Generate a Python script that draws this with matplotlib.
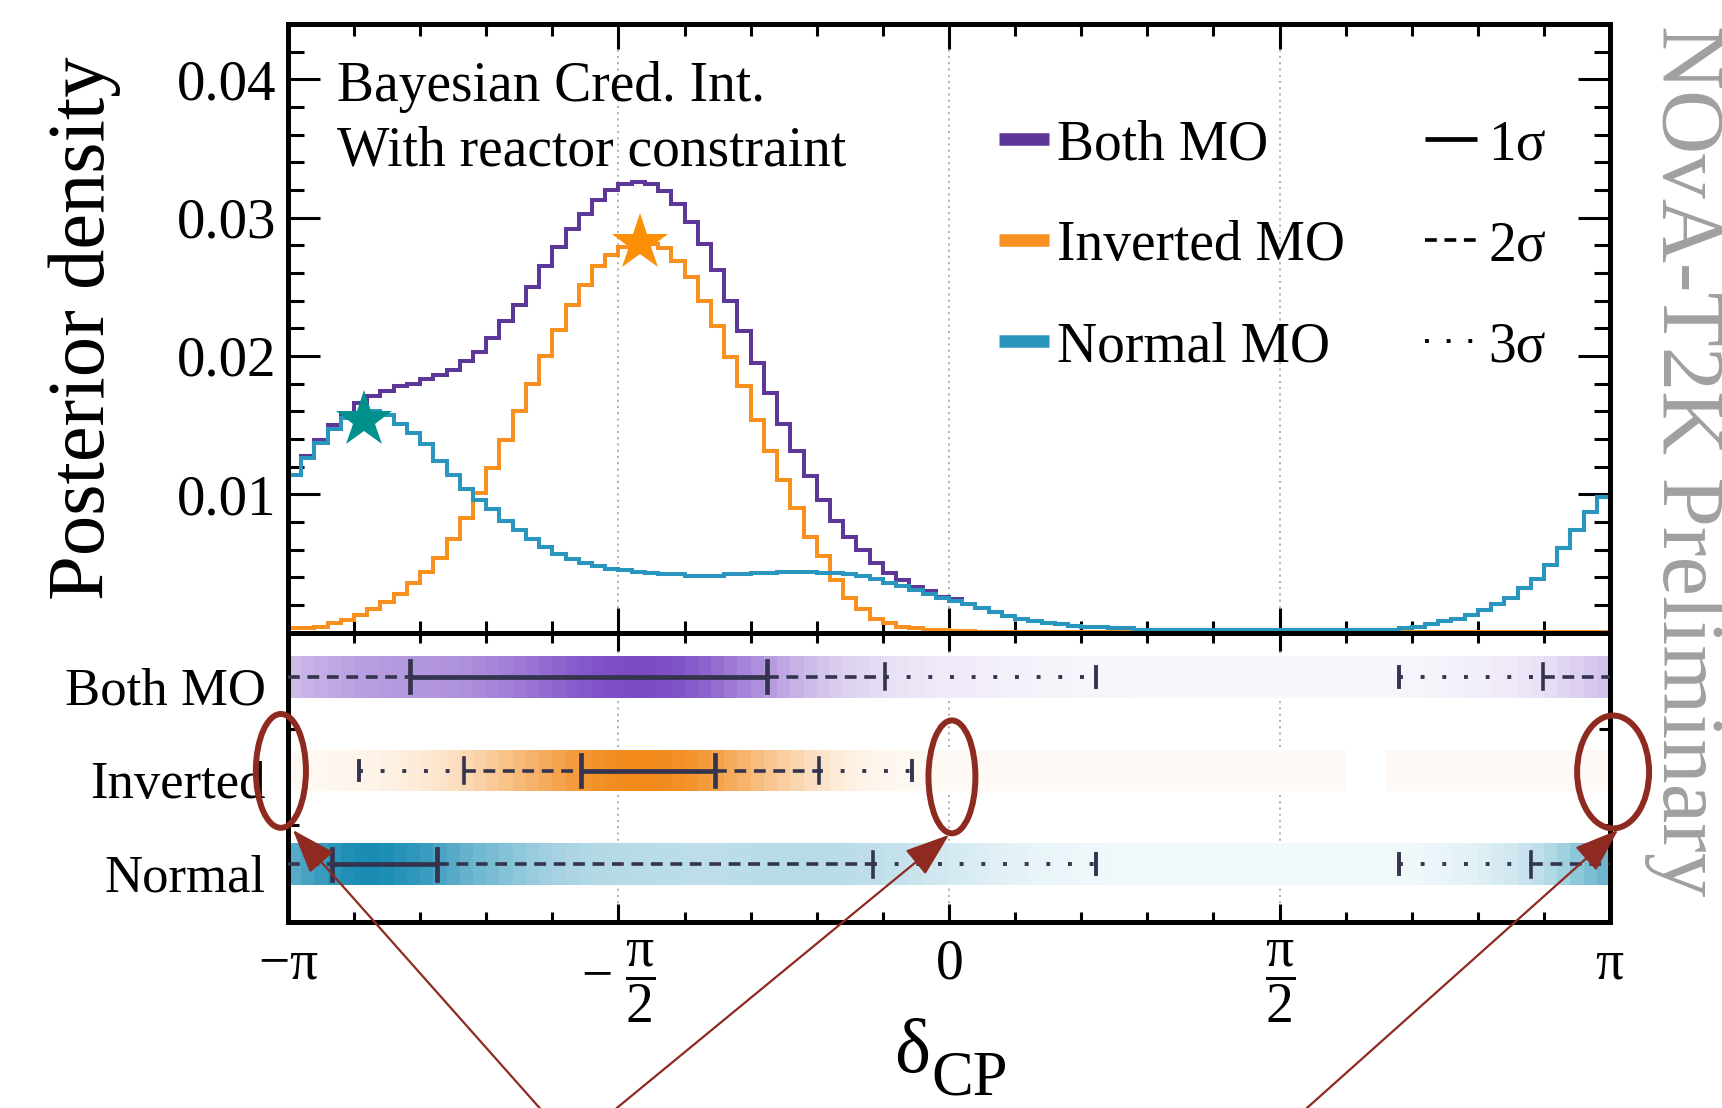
import numpy as np
import matplotlib
matplotlib.use('Agg')
import matplotlib.pyplot as plt
from matplotlib.patches import Ellipse
from matplotlib.colors import LinearSegmentedColormap, Normalize, to_rgb
from matplotlib.ticker import MultipleLocator, NullFormatter

plt.rcParams['font.family'] = ['Liberation Serif', 'DejaVu Serif']
plt.rcParams['mathtext.fontset'] = 'custom'
plt.rcParams['mathtext.rm'] = 'Liberation Serif'
plt.rcParams['mathtext.it'] = 'Liberation Serif:italic'
plt.rcParams['mathtext.default'] = 'regular'
plt.rcParams['lines.scale_dashes'] = False

# delta_CP posterior, 100 bins from -pi to pi
n_bins = 100
edges = np.linspace(-np.pi, np.pi, n_bins + 1)

both_mo = [
    0.0114, 0.0128, 0.0139, 0.0150, 0.0158, 0.0166, 0.0171, 0.0175, 0.0178, 0.0180,
    0.0183, 0.0186, 0.0190, 0.0196, 0.0203, 0.0213, 0.0225, 0.0237, 0.0250, 0.0265,
    0.0279, 0.0292, 0.0303, 0.0313, 0.0320, 0.0324, 0.0326, 0.0324, 0.0319, 0.0310,
    0.0297, 0.0281, 0.0262, 0.0240, 0.0218, 0.0195, 0.0173, 0.0151, 0.0131, 0.0113,
    0.0096, 0.0081, 0.0069, 0.0060, 0.0050, 0.0043, 0.0038, 0.0033, 0.0030, 0.0026,
    0.0024, 0.0021, 0.0018, 0.0015, 0.0012, 0.0010, 0.0008, 0.0007, 0.0006, 0.0005,
    0.0004, 0.0004, 0.0003, 0.0003, 0.0002, 0.0002, 0.0002, 0.0002, 0.0002, 0.0002,
    0.0002, 0.0002, 0.0002, 0.0002, 0.0002, 0.0002, 0.0002, 0.0002, 0.0002, 0.0002,
    0.0002, 0.0002, 0.0002, 0.0002, 0.0003, 0.0004, 0.0006, 0.0008, 0.0010, 0.0013,
    0.0016, 0.0021, 0.0025, 0.0032, 0.0039, 0.0049, 0.0061, 0.0074, 0.0087, 0.0098,
]

inverted_mo = [
    0.0003, 0.0003, 0.0004, 0.0007, 0.0009, 0.0013, 0.0017, 0.0022, 0.0028, 0.0036,
    0.0044, 0.0054, 0.0068, 0.0083, 0.0101, 0.0119, 0.0139, 0.0160, 0.0180, 0.0200,
    0.0219, 0.0237, 0.0251, 0.0265, 0.0273, 0.0279, 0.0282, 0.0281, 0.0278, 0.0269,
    0.0257, 0.0240, 0.0222, 0.0199, 0.0178, 0.0154, 0.0131, 0.0110, 0.0090, 0.0069,
    0.0055, 0.0038, 0.0025, 0.0017, 0.0010, 0.0007, 0.0004, 0.0003, 0.0002, 0.0002,
    0.0001, 0.0001, 0.00004, 0.00003, 0.00002, 0.00002, 0.00002, 0.00002, 0.00002, 0.00002,
    0.00002, 0.00002, 0.00002, 0.00002, 0.00002, 0.00002, 0.00002, 0.00002, 0.00002, 0.00002,
    0.00002, 0.00002, 0.00002, 0.00002, 0.00001, 0.00001, 0.00002, 0.00002, 0.00002, 0.00002,
    0.0, 0.0, 0.0, 0.00002, 0.00002, 0.00002, 0.00002, 0.00002, 0.00002, 0.00002,
    0.00002, 0.00002, 0.00002, 0.00002, 0.00002, 0.00002, 0.00002, 0.00002, 0.00002, 0.00002,
]

normal_mo = [
    0.0114, 0.0126, 0.0137, 0.0147, 0.0155, 0.0159, 0.0160, 0.0157, 0.0151, 0.0144,
    0.0136, 0.0124, 0.0114, 0.0104, 0.0096, 0.0089, 0.0081, 0.0074, 0.0068, 0.0062,
    0.0057, 0.0053, 0.0050, 0.0048, 0.0046, 0.0045, 0.0044, 0.0043, 0.0042, 0.0042,
    0.0041, 0.0041, 0.0041, 0.0042, 0.0042, 0.0043, 0.0043, 0.0044, 0.0044, 0.0044,
    0.0043, 0.0043, 0.0042, 0.0041, 0.0039, 0.0036, 0.0034, 0.0031, 0.0028, 0.0025,
    0.0023, 0.0021, 0.0018, 0.0015, 0.0012, 0.0010, 0.0008, 0.0007, 0.0006, 0.0005,
    0.0004, 0.0004, 0.0003, 0.0003, 0.0002, 0.0002, 0.0002, 0.0002, 0.0002, 0.0002,
    0.0002, 0.0002, 0.0002, 0.0002, 0.0002, 0.0002, 0.0002, 0.0002, 0.0002, 0.0002,
    0.0002, 0.0002, 0.0002, 0.0002, 0.0003, 0.0004, 0.0006, 0.0008, 0.0010, 0.0013,
    0.0016, 0.0021, 0.0025, 0.0032, 0.0039, 0.0049, 0.0061, 0.0074, 0.0087, 0.0098,
]

# posterior modes
normal_best = (-2.780, 0.0154)
inverted_best = (-1.468, 0.0282)

# credible intervals per sigma level, as (low, high) pieces (wrapping at +-pi)
both_ci = {1: [(-2.561, -0.867)],
           2: [(-np.pi, -0.302), (2.822, np.pi)],
           3: [(-np.pi, 0.699), (2.138, np.pi)]}
inverted_ci = {1: [(-1.748, -1.114)],
               2: [(-2.307, -0.617)],
               3: [(-2.806, -0.174)]}
normal_ci = {1: [(-2.932, -2.435)],
             2: [(-np.pi, -0.363), (2.765, np.pi)],
             3: [(-np.pi, 0.699), (2.138, np.pi)]}

row_labels = ['Both MO', 'Inverted', 'Normal']
legend_labels = ['Both MO', 'Inverted MO', 'Normal MO']
sigma_labels = ['1σ', '2σ', '3σ']

line_colors = ['#5c3797', '#f7901e', '#2a96bd']
band_colors = ['#7b4bc6', '#f28a1c', '#1a8cb4']
ci_color = '#34344e'
mark_red = '#8e2a1f'

row_y = [2.54, 1.57, 0.60]
band_half = 0.216

fig = plt.figure(figsize=(17.22, 11.08), dpi=100)
ax1 = fig.add_axes([0.1672, 0.4291, 0.7678, 0.5492])
ax2 = fig.add_axes([0.1672, 0.1679, 0.7678, 0.2612], sharex=ax1)

for ax in (ax1, ax2):
    for s in ax.spines.values():
        s.set_linewidth(3.6)
    for xv in (-np.pi / 2, 0, np.pi / 2):
        ax.axvline(xv, color='#b0b0b0', ls=(0, (1.5, 3.0)), lw=1.4, zorder=0)

# --- top panel: posterior histograms
series = [both_mo, inverted_mo, normal_mo]
for vals, col in zip(series, line_colors):
    ax1.stairs(vals, edges, color=col, lw=2.9, zorder=2)

ax1.plot(*normal_best, ls='none', marker='*', ms=43, mew=0, color='#00918c', zorder=4)
ax1.plot(*inverted_best, ls='none', marker='*', ms=43, mew=0, color='#fb8f06', zorder=4)

ax1.set_xlim(-np.pi, np.pi)
ax1.set_ylim(0, 0.044)
ax1.set_yticks([0.01, 0.02, 0.03, 0.04])
ax1.set_yticklabels(['0.01', '0.02', '0.03', '0.04'])
ax1.yaxis.set_minor_locator(MultipleLocator(0.002))
ax1.set_xticks([-np.pi, -np.pi / 2, 0, np.pi / 2, np.pi])
ax1.xaxis.set_minor_locator(MultipleLocator(np.pi / 10))

ax1.tick_params(axis='y', which='major', direction='in', length=23, width=2.2,
                left=True, right=True, labelsize=41, pad=8)
ax1.tick_params(axis='y', which='minor', direction='in', length=11.5, width=2.2,
                left=True, right=True)
ax1.tick_params(axis='x', which='major', direction='in', length=18, width=2.2,
                top=True, bottom=True, labelbottom=False)
ax1.tick_params(axis='x', which='minor', direction='in', length=8.6, width=2.2,
                top=True, bottom=True)

ax1.set_ylabel('Posterior density', fontsize=58)
ax1.yaxis.set_label_coords(-0.126, 0.5)

ax1.text(0.037, 0.8735, 'Bayesian Cred. Int.', transform=ax1.transAxes, fontsize=40, va='baseline')
ax1.text(0.037, 0.768, 'With reactor constraint', transform=ax1.transAxes, fontsize=40, va='baseline')

# legend, drawn by hand in axes fraction
leg_rows = [0.811, 0.645, 0.479]
for yy, lab, col in zip(leg_rows, legend_labels, line_colors):
    ax1.plot([0.5378, 0.5756], [yy, yy], transform=ax1.transAxes, color=col,
             lw=9, solid_capstyle='butt')
    ax1.text(0.5817, yy - 0.033, lab, transform=ax1.transAxes, fontsize=40, va='baseline')

sigma_styles = {1: dict(ls='-', lw=3.4),
                2: dict(ls=(0, (8.5, 5.5)), lw=2.6),
                3: dict(ls=(0, (2.8, 12.8)), lw=2.8)}
for yy, lab, lvl in zip(leg_rows, sigma_labels, (1, 2, 3)):
    ax1.plot([0.860, 0.899], [yy, yy], transform=ax1.transAxes, color='black',
             solid_capstyle='butt', dash_capstyle='butt', **sigma_styles[lvl])
    ax1.text(0.908, yy - 0.033, lab, transform=ax1.transAxes, fontsize=40, va='baseline')

# --- bottom panel: credible interval bands
ci_sets = [both_ci, inverted_ci, normal_ci]


def subtract(pieces, inner):
    out = []
    for lo, hi in pieces:
        parts = [(lo, hi)]
        for a, b in inner:
            kept = []
            for p, q in parts:
                if b <= p or a >= q:
                    kept.append((p, q))
                else:
                    if a > p:
                        kept.append((p, a))
                    if b < q:
                        kept.append((b, q))
            parts = kept
        out += parts
    return out


cap_half = {1: 0.16, 2: 0.13, 3: 0.10}
for vals, col, yy, ci in zip(series, band_colors, row_y, ci_sets):
    v = np.ma.masked_equal(np.asarray(vals, dtype=float), 0.0)
    base = np.array(to_rgb(col))
    light = 1 - 0.05 * (1 - base)
    cmap = LinearSegmentedColormap.from_list('band', [light, base])
    ax2.pcolormesh(edges, [yy - band_half, yy + band_half], v[np.newaxis, :],
                   cmap=cmap, norm=Normalize(0, max(vals)), shading='flat',
                   antialiased=False, zorder=1)

    for lvl in (1, 2, 3):
        pieces = ci[lvl] if lvl == 1 else subtract(ci[lvl], ci[lvl - 1])
        for lo, hi in pieces:
            ax2.plot([lo, hi], [yy, yy], color=ci_color, zorder=3,
                     solid_capstyle='butt', dash_capstyle='butt', **sigma_styles[lvl])
        for lo, hi in ci[lvl]:
            for xe in (lo, hi):
                if abs(abs(xe) - np.pi) > 1e-6:
                    ax2.plot([xe, xe], [yy - cap_half[lvl], yy + cap_half[lvl]],
                             color=ci_color, lw=sigma_styles[lvl]['lw'], zorder=3)

ax2.set_ylim(0, 3)
ax2.set_yticks([1, 2])
ax2.yaxis.set_major_formatter(NullFormatter())
# row names sit a little below the band centres
ax2.set_yticks([y - 0.09 for y in row_y], minor=True)
ax2.set_yticklabels(row_labels, minor=True)
ax2.set_xticks([-np.pi, -np.pi / 2, 0, np.pi / 2, np.pi])
ax2.set_xticklabels([r'$-\pi$', r'$-\ \dfrac{\pi}{2}$', r'$0$', r'$\dfrac{\pi}{2}$', r'$\pi$'])

ax2.tick_params(axis='x', which='major', direction='in', length=13, width=2.2,
                top=True, bottom=True, labelsize=40, pad=12)
ax2.tick_params(axis='x', which='minor', direction='in', length=7, width=2.2,
                top=True, bottom=True)
ax2.tick_params(axis='y', which='major', direction='in', length=8, width=2.2,
                left=True, right=True)
ax2.tick_params(axis='y', which='minor', length=0, pad=16, labelsize=38)

# axis title: delta with a large CP subscript
ax2.set_xlabel('δ', fontsize=55, ha='right')
ax2.xaxis.set_label_coords(0.486, -0.335)
ax2.text(0.487, -0.596, 'CP', transform=ax2.transAxes, fontsize=45,
         ha='left', va='baseline')

fig.text(1684 / 1722, 1 - 461 / 1108, 'NOvA-T2K Preliminary', rotation=-90,
         ha='center', va='center', fontsize=64, color='#a0a0a0')

# red markup: rings around the +-pi / 0 edges of the inverted row, with pointers
rings = [((-3.175, 1.566), 0.238, 1.18),
         ((0.014, 1.504), 0.223, 1.17),
         ((3.156, 1.555), 0.342, 1.17)]
for (cx, cy), w, h in rings:
    ax2.add_patch(Ellipse((cx, cy), w, h, fill=False, ec=mark_red, lw=4.3,
                          clip_on=False, zorder=10))

pointers = [((-3.118, 0.954), (584, -50)),
            ((0.0, 0.903), (556, -50)),
            ((3.18, 0.954), (1251, -50))]
for tip, tail in pointers:
    ax2.annotate('', xy=tip, xycoords='data', xytext=tail, textcoords='figure pixels',
                 arrowprops=dict(arrowstyle='-|>,head_length=1.4,head_width=0.5',
                                 color=mark_red, lw=1.6, shrinkA=0, shrinkB=0,
                                 mutation_scale=20),
                 annotation_clip=False, zorder=11)

fig.savefig('out.png', dpi=100)
